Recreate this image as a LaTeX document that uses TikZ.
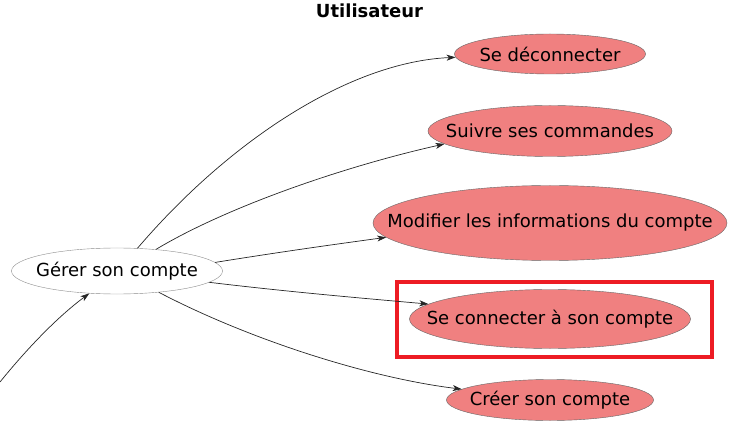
\documentclass[tikz,border=0pt]{standalone}
\usepackage{fontspec}
\setmainfont{DejaVu Sans}
\usetikzlibrary{shapes.geometric,arrows.meta}
\definecolor{ucfill}{HTML}{F08080}
\definecolor{hilite}{HTML}{ED1C24}
\tikzset{
  ucfont/.style={font=\fontsize{18}{20}\selectfont, inner sep=0pt},
  uc/.style={ellipse, draw=black!60, line width=0.4pt, fill=ucfill, inner sep=0pt},
  ucw/.style={uc, fill=white, draw=black!45},
  link/.style={draw=black!85, line width=0.7pt, -{Stealth[length=9pt,width=6pt,inset=2.5pt]}},
}
\begin{document}
\begin{tikzpicture}[x=1pt,y=-1pt]
\useasboundingbox (0,0) rectangle (735,435);
\node[font=\fontsize{18}{20}\selectfont\bfseries] (title) at (369.5,11) {Utilisateur};
\node[ucw, minimum width=211pt, minimum height=46pt, label={[ucfont]center:Gérer son compte}] (g) at (117,271) {};
\node[uc, minimum width=191pt, minimum height=40pt, label={[ucfont]center:Se déconnecter}] (sd) at (550,54) {};
\node[uc, minimum width=244pt, minimum height=51pt, label={[ucfont]center:Suivre ses commandes}] (sc) at (550,131) {};
\node[uc, minimum width=354pt, minimum height=75pt, label={[ucfont]center:Modifier les informations du compte}] (mi) at (550,223) {};
\node[uc, minimum width=281pt, minimum height=59pt, label={[ucfont]center:Se connecter à son compte}] (co) at (550,319) {};
\node[uc, minimum width=207pt, minimum height=41pt, label={[ucfont]center:Créer son compte}] (cr) at (550,400) {};
\node[draw=hilite, line width=4pt, minimum width=315pt, minimum height=75pt, inner sep=0pt] (box) at (554.5,319.5) {};
\coordinate (free) at (0,382);
\draw[link] (g.48.5) .. controls (230,140) and (350,62) .. (sd.182.4);
\draw[link] (g.29.5) .. controls (230,205) and (350,165) .. (sc.187.6);
\draw[link] (g.5.8) .. controls (280,252) and (330,245) .. (mi.185.5);
\draw[link] (g.-7.4) .. controls (290,292) and (360,298) .. (co.173.5);
\draw[link] (g.-27.3) .. controls (250,340) and (370,378) .. (cr.173.7);
\draw[link] (free) .. controls (30,345) and (60,315) .. (g.219.4);
\end{tikzpicture}
\end{document}
